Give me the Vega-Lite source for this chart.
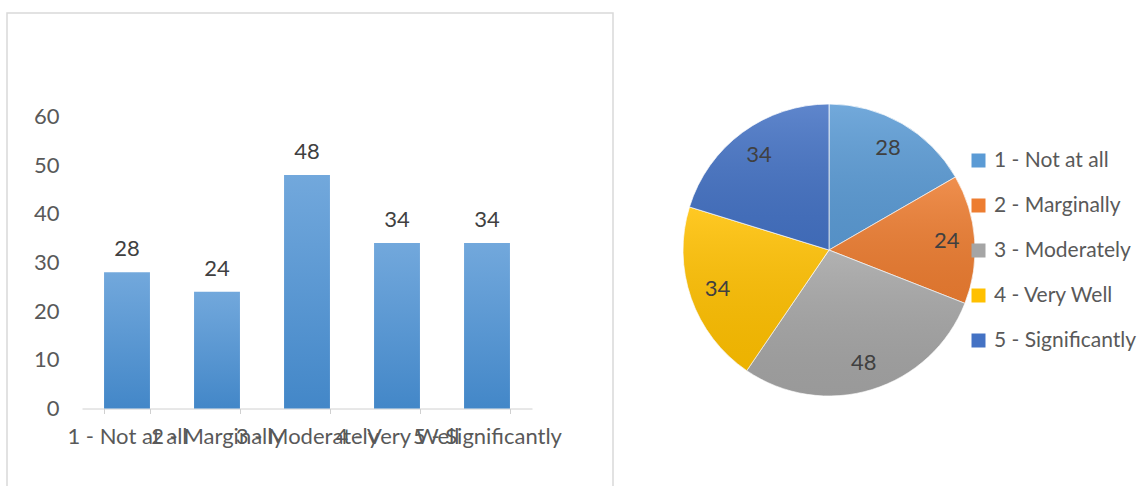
{
  "$schema": "https://vega.github.io/schema/vega-lite/v6.json",
  "background": "white",
  "padding": {"left": 6, "top": 12, "right": 0, "bottom": 0},
  "spacing": 4,
  "datasets": {
    "survey": [
      {"cat": "1 - Not at all", "value": 28},
      {"cat": "2 - Marginally", "value": 24},
      {"cat": "3 - Moderately", "value": 48},
      {"cat": "4 - Very Well", "value": 34},
      {"cat": "5 - Significantly", "value": 34}
    ]
  },
  "config": {
    "font": "Lato",
    "axis": {"labelFont": "Lato", "labelColor": "#595959", "labelFontSize": 22},
    "legend": {"labelFont": "Lato", "labelColor": "#595959", "labelFontSize": 21}
  },
  "hconcat": [
    {
      "width": 606,
      "height": 474,
      "view": {"stroke": "#D9D9D9", "strokeWidth": 1.5},
      "data": {"name": "survey"},
      "encoding": {
        "x": {
          "field": "cat",
          "type": "nominal",
          "sort": null,
          "scale": {"range": [75, 525], "paddingInner": 0.49, "paddingOuter": 0.245},
          "axis": {
            "orient": "bottom",
            "offset": -78.5,
            "title": null,
            "labelAngle": 0,
            "labelOverlap": false,
            "labelLimit": 400,
            "labelPadding": 13,
            "domainColor": "#D0D0D0",
            "tickColor": "#D0D0D0",
            "tickSize": 5,
            "tickBand": "extent",
            "grid": false
          }
        },
        "y": {
          "field": "value",
          "type": "quantitative",
          "scale": {"domain": [-16.14, 81.3], "nice": false, "zero": false},
          "axis": {
            "values": [0, 10, 20, 30, 40, 50, 60],
            "domain": false,
            "ticks": false,
            "grid": false,
            "title": null,
            "offset": -56,
            "labelPadding": 4
          }
        }
      },
      "layer": [
        {
          "mark": {
            "type": "bar",
            "color": {
              "gradient": "linear",
              "x1": 0, "y1": 0, "x2": 0, "y2": 1,
              "stops": [
                {"offset": 0, "color": "#72A8DC"},
                {"offset": 1, "color": "#4387C8"}
              ]
            }
          },
          "encoding": {"y2": {"datum": 0}}
        },
        {
          "mark": {"type": "text", "dy": -16, "baseline": "alphabetic", "fontSize": 22, "color": "#404040"},
          "encoding": {"text": {"field": "value", "type": "quantitative"}}
        }
      ]
    },
    {
      "width": 422,
      "height": 474,
      "view": {"stroke": null},
      "data": {"name": "survey"},
      "encoding": {
        "theta": {"field": "value", "type": "quantitative", "stack": true},
        "order": {"field": "cat", "type": "ordinal"}
      },
      "layer": [
        {
          "mark": {"type": "arc", "outerRadius": 146, "stroke": "#ffffff", "strokeWidth": 0.75},
          "encoding": {
            "color": {
              "field": "cat",
              "type": "nominal",
              "scale": {
                "domain": ["1 - Not at all", "2 - Marginally", "3 - Moderately", "4 - Very Well", "5 - Significantly"],
                "range": ["#5B9BD5", "#ED7D31", "#A5A5A5", "#FFC000", "#4472C4"]
              },
              "legend": {
                "orient": "none",
                "legendX": 961,
                "legendY": 137,
                "title": null,
                "symbolType": "square",
                "symbolSize": 196,
                "symbolStrokeWidth": 0,
                "symbolOpacity": 1,
                "rowPadding": 23,
                "labelOffset": 5,
                "padding": 0
              }
            }
          }
        },
        {
          "mark": {
            "type": "arc",
            "outerRadius": 146,
            "strokeWidth": 0,
            "color": {
              "gradient": "linear",
              "x1": 0, "y1": 0, "x2": 0, "y2": 1,
              "stops": [
                {"offset": 0, "color": "rgba(255,255,255,0.14)"},
                {"offset": 1, "color": "rgba(0,0,0,0.07)"}
              ]
            }
          }
        },
        {
          "mark": {"type": "text", "radius": 118, "fontSize": 22, "color": "#404040"},
          "encoding": {"text": {"field": "value", "type": "quantitative"}}
        }
      ]
    }
  ]
}
